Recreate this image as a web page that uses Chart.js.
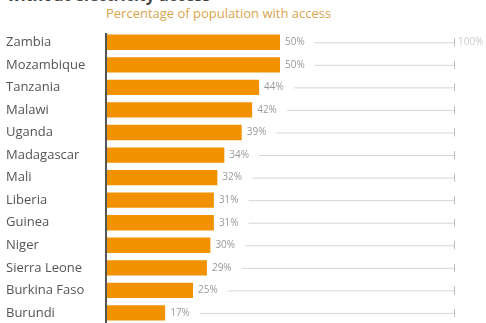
<!DOCTYPE html>
<html>
<head>
<meta charset="utf-8">
<script src="https://cdn.jsdelivr.net/npm/chart.js@4"></script>
<style>
  html, body { margin: 0; padding: 0; background: #fff; overflow: hidden; }
  #wrap { position: relative; width: 486px; height: 323px; overflow: hidden; }
  #title { position: absolute; left: 7px; top: -16px; font: bold 16px "Open Sans", sans-serif; color: #444; white-space: nowrap; }
  #sub { position: absolute; left: 106px; top: 4px; font: 13px "Open Sans", sans-serif; color: #d9a54e; white-space: nowrap; }
  canvas { position: absolute; left: 0; top: 0; }
</style>
</head>
<body>
<div id="wrap">
  <div id="title">without electricity access</div>
  <div id="sub">Percentage of population with access</div>
  <canvas id="myCanvas" width="486" height="332"></canvas>
</div>
<script>
// datos
const paises = ['Zambia', 'Mozambique', 'Tanzania', 'Malawi', 'Uganda', 'Madagascar', 'Mali',
   'Liberia', 'Guinea', 'Niger', 'Sierra Leone', 'Burkina Faso', 'Burundi'];
const acceso = [50, 50, 44, 42, 39, 34, 32, 31, 31, 30, 29, 25, 17];
const maximo = 100;

// etiquetas de valor y lineas grises hasta 100%
const etiquetas = {
   id: 'etiquetas',
   afterDatasetsDraw(chart) {
      const ctx = chart.ctx;
      const meta = chart.getDatasetMeta(0);
      const xs = chart.scales.x;
      const x100 = xs.getPixelForValue(maximo);
      ctx.save();
      ctx.font = '10px "Open Sans", sans-serif';
      ctx.textBaseline = 'middle';
      meta.data.forEach(function(bar, i) {
         const txt = acceso[i] + '%';
         ctx.fillStyle = '#999';
         ctx.textAlign = 'left';
         ctx.fillText(txt, bar.x + 5, bar.y);
         const w = ctx.measureText(txt).width;
         ctx.strokeStyle = '#d6d6d6';
         ctx.lineWidth = 1;
         ctx.beginPath();
         ctx.moveTo(bar.x + 5 + w + 10, bar.y + 0.5);
         ctx.lineTo(x100, bar.y + 0.5);
         ctx.stroke();
         ctx.strokeStyle = '#bbb';
         ctx.beginPath();
         ctx.moveTo(x100 + 0.5, bar.y - 4);
         ctx.lineTo(x100 + 0.5, bar.y + 4);
         ctx.stroke();
         if (i === 0) {
            ctx.fillStyle = '#ccc';
            ctx.fillText(maximo + '%', x100 + 4, bar.y);
         }
      });
      // eje vertical
      const ca = chart.chartArea;
      ctx.strokeStyle = '#555';
      ctx.lineWidth = 2;
      ctx.beginPath();
      ctx.moveTo(xs.getPixelForValue(0), ca.top + 2);
      ctx.lineTo(xs.getPixelForValue(0), ca.bottom + 10);
      ctx.stroke();
      ctx.restore();
   }
};

const ctx = document.getElementById('myCanvas').getContext('2d');
const myChart = new Chart(ctx, {
   type: 'bar',
   data: {
      labels: paises,
      datasets: [{
         data: acceso,
         backgroundColor: '#f39200',
         borderWidth: 0,
         categoryPercentage: 1,
         barPercentage: 0.68
      }]
   },
   options: {
      indexAxis: 'y',
      responsive: false,
      animation: false,
      layout: { padding: { top: 31, right: 32, bottom: 5, left: 6 } },
      plugins: { legend: { display: false }, tooltip: { enabled: false } },
      scales: {
         x: { min: 0, max: maximo, display: false },
         y: {
            grid: { display: false, drawBorder: false },
            border: { display: false },
            ticks: {
               color: '#555',
               font: { family: 'Open Sans', size: 13 },
               padding: 0,
               crossAlign: 'far'
            },
            afterFit(scale) { scale.width = 100; }
         }
      }
   },
   plugins: [etiquetas]
});
</script>
</body>
</html>
